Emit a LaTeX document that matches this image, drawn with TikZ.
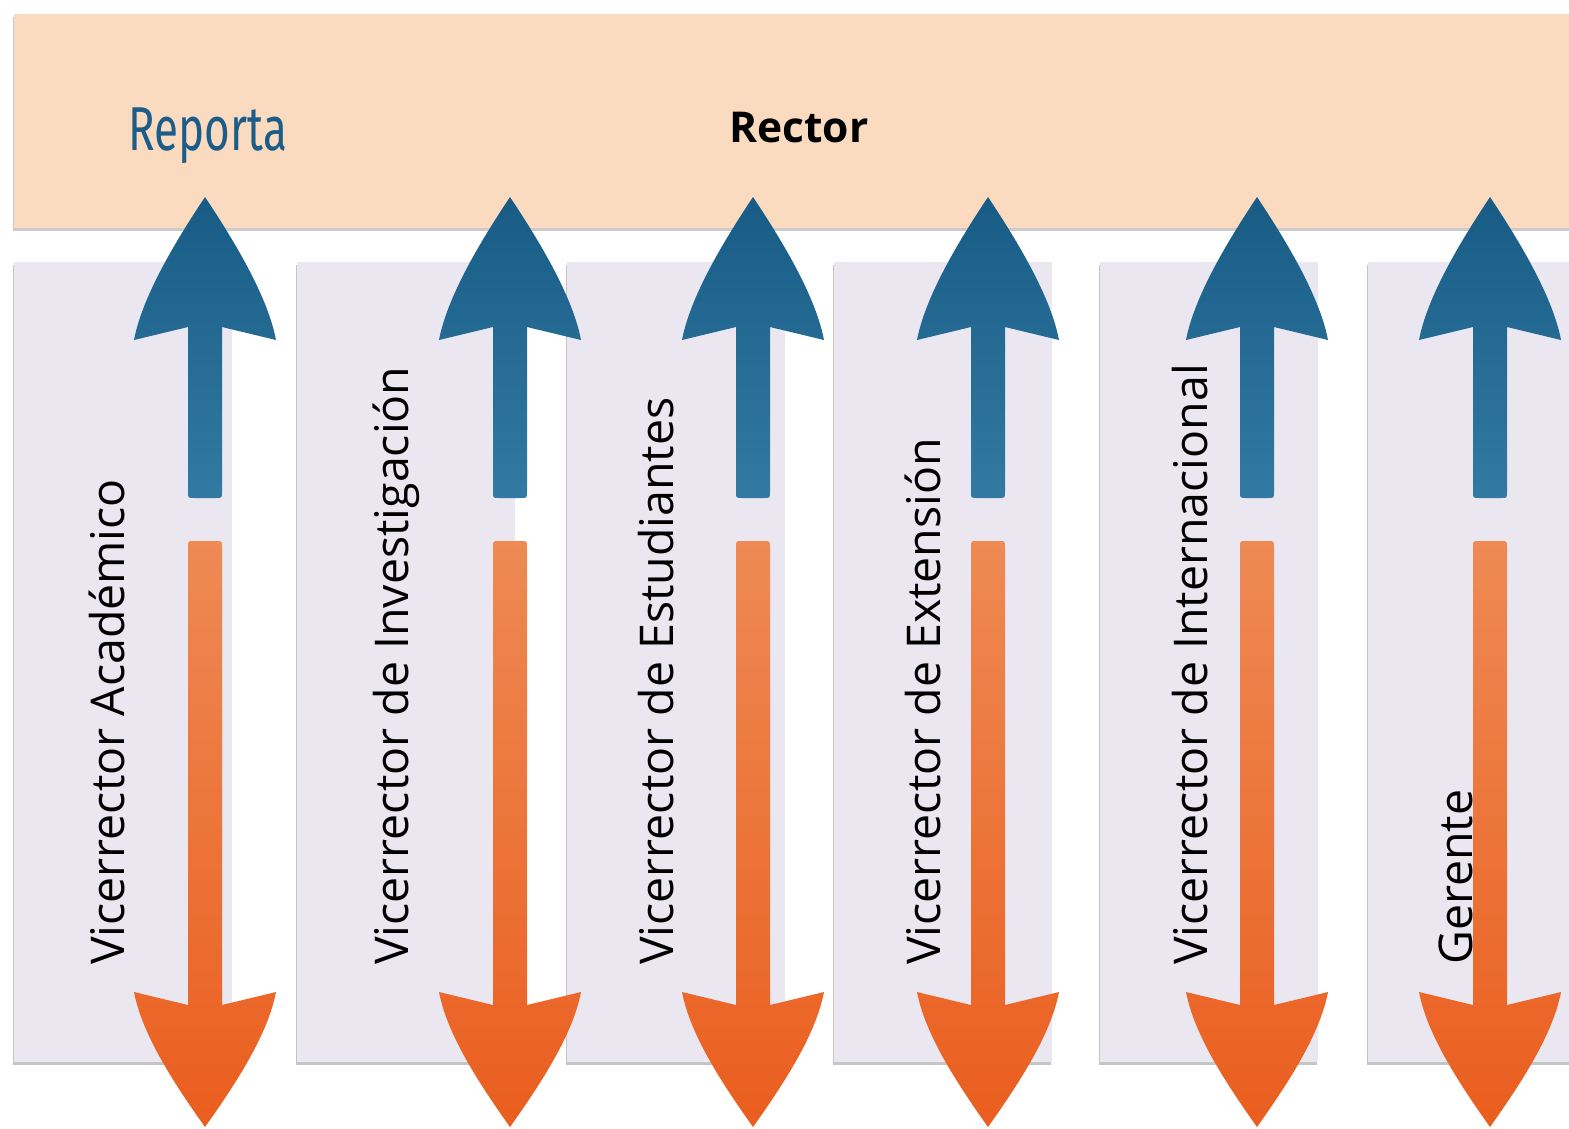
\documentclass[tikz,border=0pt]{standalone}
\usepackage{fontspec}
\setmainfont{Open Sans}
\newfontfamily\repfont{Fira Sans}
\usetikzlibrary{shadows}
\definecolor{peach}{RGB}{251,219,192}
\definecolor{lav}{RGB}{234,231,240}
\definecolor{bluedark}{RGB}{24,92,134}
\definecolor{bluelight}{RGB}{50,122,162}
\definecolor{orlight}{RGB}{238,138,84}
\definecolor{ordark}{RGB}{234,94,30}
\definecolor{repblue}{RGB}{28,92,136}
\tikzset{
  barbox/.style={fill=peach, draw=none, inner sep=0pt, anchor=north west,
    drop shadow={shadow xshift=-1.5pt, shadow yshift=-2.5pt, fill=black!45, opacity=0.45}},
  lavbox/.style={fill=lav, draw=none, inner sep=0pt, anchor=north west,
    minimum width=218pt, minimum height=800pt,
    drop shadow={shadow xshift=-1.5pt, shadow yshift=-2.5pt, fill=black!50, opacity=0.45}},
  lbl/.style={rotate=90, anchor=base west, inner sep=0pt, text=black,
    font=\fontsize{46.5}{54}\selectfont},
}
\begin{document}
\begin{tikzpicture}[x=1pt,y=-1pt]
\useasboundingbox (0,0) rectangle (1569,1128);
\fill[white] (0,0) rectangle (1569,1128);
% top bar
\node[barbox, minimum width=1580pt, minimum height=214pt] (rector) at (14,14) {};
\node[anchor=base, inner sep=0pt, text=repblue, font=\repfont\fontsize{62}{70}\selectfont] (reporta) at (208,150) {\scalebox{0.71}[1]{Reporta}};
\node[anchor=base, inner sep=0pt, font=\bfseries\fontsize{42.5}{50}\selectfont] (rectortxt) at (799,142) {Rector};
% boxes
\node[lavbox] (b1) at (14,262) {};
\node[lavbox] (b2) at (297,262) {};
\node[lavbox] (b3) at (567,262) {};
\node[lavbox] (b4) at (834,262) {};
\node[lavbox] (b5) at (1100,262) {};
\node[lavbox] (b6) at (1368,262) {};
% labels
\node[lbl] (l1) at (124,965) {Vicerrector Académico};
\node[lbl] (l2) at (408,965) {Vicerrector de Investigación};
\node[lbl] (l3) at (673,965) {Vicerrector de Estudiantes};
\node[lbl] (l4) at (940,965) {Vicerrector de Extensión};
\node[lbl] (l5) at (1207,965) {Vicerrector de Internacional};
\node[lbl] (l6) at (1472,965) {Gerente};
% arrows
\foreach \c in {205,510,753,988,1257,1490}{
  \shade[top color=bluedark, bottom color=bluelight]
    (\c,197) .. controls (\c-32,245) and (\c-63,298) .. (\c-71,340)
    -- (\c-17,327) -- (\c-17,492) .. controls (\c-17,498) .. (\c-11,498)
    -- (\c+11,498) .. controls (\c+17,498) .. (\c+17,492)
    -- (\c+17,327) -- (\c+71,340)
    .. controls (\c+63,298) and (\c+32,245) .. (\c,197) -- cycle;
  \shade[top color=orlight, bottom color=ordark]
    (\c-17,1005) -- (\c-71,992)
    .. controls (\c-63,1034) and (\c-32,1082) .. (\c,1127)
    .. controls (\c+32,1082) and (\c+63,1034) .. (\c+71,992)
    -- (\c+17,1005) -- (\c+17,547) .. controls (\c+17,541) .. (\c+11,541)
    -- (\c-11,541) .. controls (\c-17,541) .. (\c-17,547) -- cycle;
}
\end{tikzpicture}
\end{document}
